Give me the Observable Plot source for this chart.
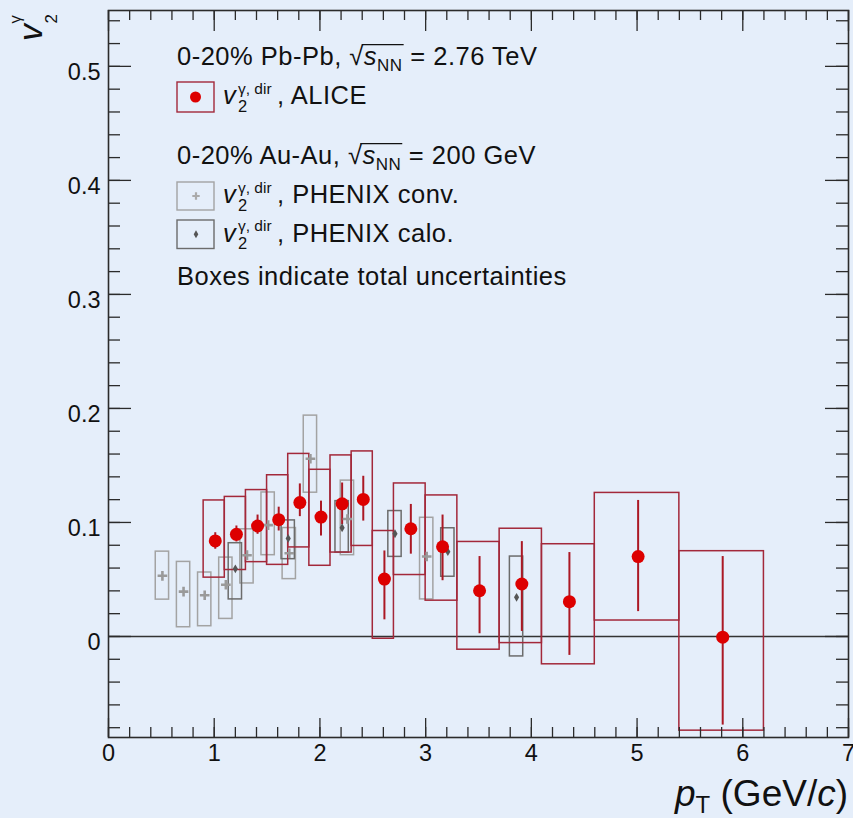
<!DOCTYPE html>
<html><head><meta charset="utf-8">
<script src="https://cdn.jsdelivr.net/npm/d3@7"></script>
<script src="https://cdn.jsdelivr.net/npm/@observablehq/plot@0.6"></script>
<style>
html,body{margin:0;padding:0;background:#e5eefa;}
#wrap{position:relative;width:853px;height:818px;overflow:hidden;font-family:"Liberation Sans",Arial,sans-serif;color:#111;}
#wrap svg{position:absolute;left:0;top:0;}
</style></head><body><div id="wrap"></div>
<script>
// ---------- data: ALICE 0-20% Pb-Pb direct-photon v2 ----------
const alicePt     = [1.01,1.21,1.41,1.61,1.81,2.01,2.21,2.41,2.61,2.86,3.16,3.51,3.91,4.36,5.01,5.81];
const aliceBinLo  = [0.9,1.1,1.3,1.5,1.7,1.9,2.1,2.3,2.5,2.7,3.0,3.3,3.7,4.1,4.6,5.4];
const aliceBinHi  = [1.1,1.3,1.5,1.7,1.9,2.1,2.3,2.5,2.7,3.0,3.3,3.7,4.1,4.6,5.4,6.2];
const aliceV2     = [0.0838,0.0896,0.0969,0.1024,0.1174,0.1047,0.1163,0.1202,0.0503,0.0945,0.0787,0.0401,0.0460,0.0305,0.0701,-0.0006];
const aliceStatLo = [0.0765,0.0829,0.0896,0.0925,0.1051,0.0881,0.0980,0.1012,0.0146,0.0722,0.0489,0.0024,0.0044,-0.0166,0.0218,-0.0777];
const aliceStatHi = [0.0910,0.0969,0.1065,0.1134,0.1338,0.1187,0.1346,0.1405,0.0750,0.1158,0.1065,0.0701,0.0832,0.0736,0.1193,0.0701];
const aliceTotLo  = [0.0516,0.0583,0.0652,0.0628,0.0781,0.0620,0.0736,0.0794,-0.0020,0.0539,0.0314,-0.0116,-0.0058,-0.0244,0.0140,-0.0826];
const aliceTotHi  = [0.1193,0.1224,0.1284,0.1414,0.1601,0.1462,0.1588,0.1623,0.0925,0.1342,0.1237,0.0829,0.0945,0.0809,0.1259,0.0748];
// ---------- PHENIX conversion ----------
const convPt    = [0.51,0.71,0.91,1.11,1.31,1.51,1.71,1.91,2.26,3.01];
const convV2    = [0.0532,0.0393,0.0362,0.0454,0.0713,0.0977,0.0730,0.1559,0.1030,0.0701];
const convTotLo = [0.0323,0.0081,0.0090,0.0154,0.0465,0.0713,0.0503,0.1261,0.0713,0.0325];
const convTotHi = [0.0744,0.0654,0.0561,0.0692,0.0940,0.1263,0.0951,0.1937,0.1367,0.1041];
// ---------- PHENIX calorimeter ----------
const caloPt    = [1.20,1.70,2.21,2.71,3.21,3.86];
const caloV2    = [0.0593,0.0860,0.0954,0.0901,0.0744,0.0343];
const caloTotLo = [0.0325,0.0678,0.0736,0.0698,0.0524,-0.0175];
const caloTotHi = [0.0818,0.1018,0.1187,0.1100,0.0949,0.0701];
const phenixHalfWidth = 0.063;
// ---------- ticks ----------
const xMajor = [0,1,2,3,4,5,6,7];
const yMajor = [0,0.1,0.2,0.3,0.4,0.5];
const xMinor = d3.range(0, 7.001, 0.2);
const yMinor = d3.range(-0.08, 0.5401, 0.02);

const alice = alicePt.map((pt,i)=>({pt, v2:aliceV2[i], binLo:aliceBinLo[i], binHi:aliceBinHi[i],
  statLo:aliceStatLo[i], statHi:aliceStatHi[i], lo:aliceTotLo[i], hi:aliceTotHi[i]}));
const conv = convPt.map((pt,i)=>({pt, v2:convV2[i], lo:convTotLo[i], hi:convTotHi[i]}));
const calo = caloPt.map((pt,i)=>({pt, v2:caloV2[i], lo:caloTotLo[i], hi:caloTotHi[i]}));

const W=853, H=818, mL=108, mR=5, mT=10, mB=81;
const iW=W-mL-mR, iH=H-mT-mB;
const ax="#2b2b2b";
const RED_BOX="#a3283a", RED_ERR="#ab1824", RED_PT="#dd0000";
const CONV="#a3a3a3", CALO="#6c6c6c";

const plot = Plot.plot({
  width:W, height:H, marginLeft:mL, marginRight:mR, marginTop:mT, marginBottom:mB,
  style:{background:"transparent", fontFamily:"Liberation Sans, Arial, sans-serif", fontSize:"23px", color:"#111", overflow:"visible"},
  x:{domain:[0,7], axis:null},
  y:{domain:[-0.0886,0.549], axis:null},
  marks:[
    Plot.ruleY([0], {stroke:"#333", strokeWidth:1.3}),
    Plot.rect(conv, {x1:d=>d.pt-phenixHalfWidth, x2:d=>d.pt+phenixHalfWidth, y1:"lo", y2:"hi", fill:"none", stroke:CONV, strokeWidth:1.5}),
    Plot.rect(calo, {x1:d=>d.pt-phenixHalfWidth, x2:d=>d.pt+phenixHalfWidth, y1:"lo", y2:"hi", fill:"none", stroke:CALO, strokeWidth:1.5}),
    Plot.rect(alice, {x1:"binLo", x2:"binHi", y1:"lo", y2:"hi", fill:"none", stroke:RED_BOX, strokeWidth:1.5}),
    Plot.ruleX(alice, {x:"pt", y1:"statLo", y2:"statHi", stroke:RED_ERR, strokeWidth:2}),
    Plot.dot(conv, {x:"pt", y:"v2", symbol:"plus", r:3.2, stroke:"#9a9a9a", strokeWidth:2.6}),
    Plot.dot(calo, {x:"pt", y:"v2", symbol:"diamond", r:2.7, fill:"#555", stroke:"none"}),
    Plot.dot(alice, {x:"pt", y:"v2", r:6.5, fill:RED_PT, stroke:"none"}),
    // ticks inside the frame
    Plot.tickX(xMinor, {x:d=>d, insetTop:iH-10, stroke:ax, strokeWidth:1.3}),
    Plot.tickX(xMajor, {x:d=>d, insetTop:iH-19, stroke:ax, strokeWidth:1.3}),
    Plot.tickX(xMinor, {x:d=>d, insetBottom:iH-10, stroke:ax, strokeWidth:1.3}),
    Plot.tickX(xMajor, {x:d=>d, insetBottom:iH-21, stroke:ax, strokeWidth:1.3}),
    Plot.tickY(yMinor, {y:d=>d, insetRight:iW-12, stroke:ax, strokeWidth:1.3}),
    Plot.tickY(yMajor, {y:d=>d, insetRight:iW-23, stroke:ax, strokeWidth:1.3}),
    Plot.tickY(yMinor, {y:d=>d, insetLeft:iW-12, stroke:ax, strokeWidth:1.3}),
    Plot.tickY(yMajor, {y:d=>d, insetLeft:iW-23, stroke:ax, strokeWidth:1.3}),
    Plot.frame({stroke:ax, strokeWidth:1.6}),
    Plot.axisX(xMajor, {anchor:"bottom", tickSize:0, tickPadding:7, label:null, tickFormat:d=>String(d), fontSize:23.5}),
    Plot.axisY(yMajor, {anchor:"left", tickSize:0, tickPadding:8, label:null, tickFormat:d=>d===0?"0":d.toFixed(1), dy:6, fontSize:23.5})
  ]
});
const wrap=document.getElementById("wrap");
wrap.appendChild(plot);

// ---------- titles and legend (text overlay) ----------
const F=25.5, LS="0.5px";
const ov = `
<svg width="853" height="818" font-family="Liberation Sans, Arial, sans-serif" fill="#111" style="overflow:visible">
  <g transform="translate(42,41) rotate(-90)">
    <text font-size="34" font-style="italic">v</text>
    <text x="17.5" y="15" font-size="17">2</text>
    <text x="17.5" y="-21" font-size="16.5">γ</text>
  </g>
  <text x="848" y="806" font-size="37" text-anchor="end"><tspan font-style="italic">p</tspan><tspan font-size="24" dy="7">T</tspan><tspan dy="-7"> (GeV/</tspan><tspan font-style="italic">c</tspan><tspan>)</tspan></text>

  <g font-size="${F}" letter-spacing="${LS}">
  <text id="r1" x="177" y="65">0-20% Pb-Pb, <tspan class="sq">√</tspan><tspan font-style="italic">s</tspan><tspan class="nn" font-size="17" dy="6">NN</tspan><tspan dy="-6"> = 2.76 TeV</tspan></text>
  <text x="223" y="104" font-style="italic">v</text>
  <text x="277" y="104">, ALICE</text>
  <text id="r3" x="177" y="164">0-20% Au-Au, <tspan class="sq">√</tspan><tspan font-style="italic">s</tspan><tspan class="nn" font-size="17" dy="6">NN</tspan><tspan dy="-6"> = 200 GeV</tspan></text>
  <text x="223" y="203" font-style="italic">v</text>
  <text x="277" y="203">, PHENIX conv.</text>
  <text x="223" y="241.7" font-style="italic">v</text>
  <text x="277" y="241.7">, PHENIX calo.</text>
  <text x="177" y="285">Boxes indicate total uncertainties</text>
  </g>
  <g font-size="15.5">
  <text x="238" y="93.5">γ, dir</text>
  <text x="238" y="192.5">γ, dir</text>
  <text x="238" y="231.2">γ, dir</text>
  </g>
  <g font-size="16.5">
  <text x="238" y="111.5">2</text>
  <text x="238" y="210.5">2</text>
  <text x="238" y="249.2">2</text>
  </g>

  <rect x="177" y="82" width="37" height="30" fill="none" stroke="${RED_BOX}" stroke-width="1.4"/>
  <circle cx="195.5" cy="97" r="5.5" fill="${RED_PT}"/>
  <rect x="177" y="182" width="37" height="28" fill="none" stroke="${CONV}" stroke-width="1.4"/>
  <path d="M192.3,196H199.7M196,192.3V199.7" stroke="#aaa" stroke-width="2.2"/>
  <rect x="177" y="220" width="37" height="28.5" fill="none" stroke="${CALO}" stroke-width="1.4"/>
  <path d="M196,230.3L198.3,234.3L196,238.3L193.7,234.3Z" fill="#555"/>
</svg>`;
wrap.insertAdjacentHTML("beforeend", ov);
// overline of the square root, measured from the rendered glyphs
const osvg = wrap.lastElementChild;
for (const id of ["r1","r3"]) {
  const t = osvg.querySelector("#"+id);
  const sq = t.querySelector(".sq"), nn = t.querySelector(".nn");
  const b = sq.getBBox(), e = nn.getBBox();
  const y = +t.getAttribute("y") - 0.8*F;
  const ln = document.createElementNS("http://www.w3.org/2000/svg","line");
  ln.setAttribute("x1", b.x + b.width*0.85); ln.setAttribute("x2", e.x + e.width + 1);
  ln.setAttribute("y1", y); ln.setAttribute("y2", y);
  ln.setAttribute("stroke","#111"); ln.setAttribute("stroke-width","1.3");
  osvg.appendChild(ln);
}
</script></body></html>
